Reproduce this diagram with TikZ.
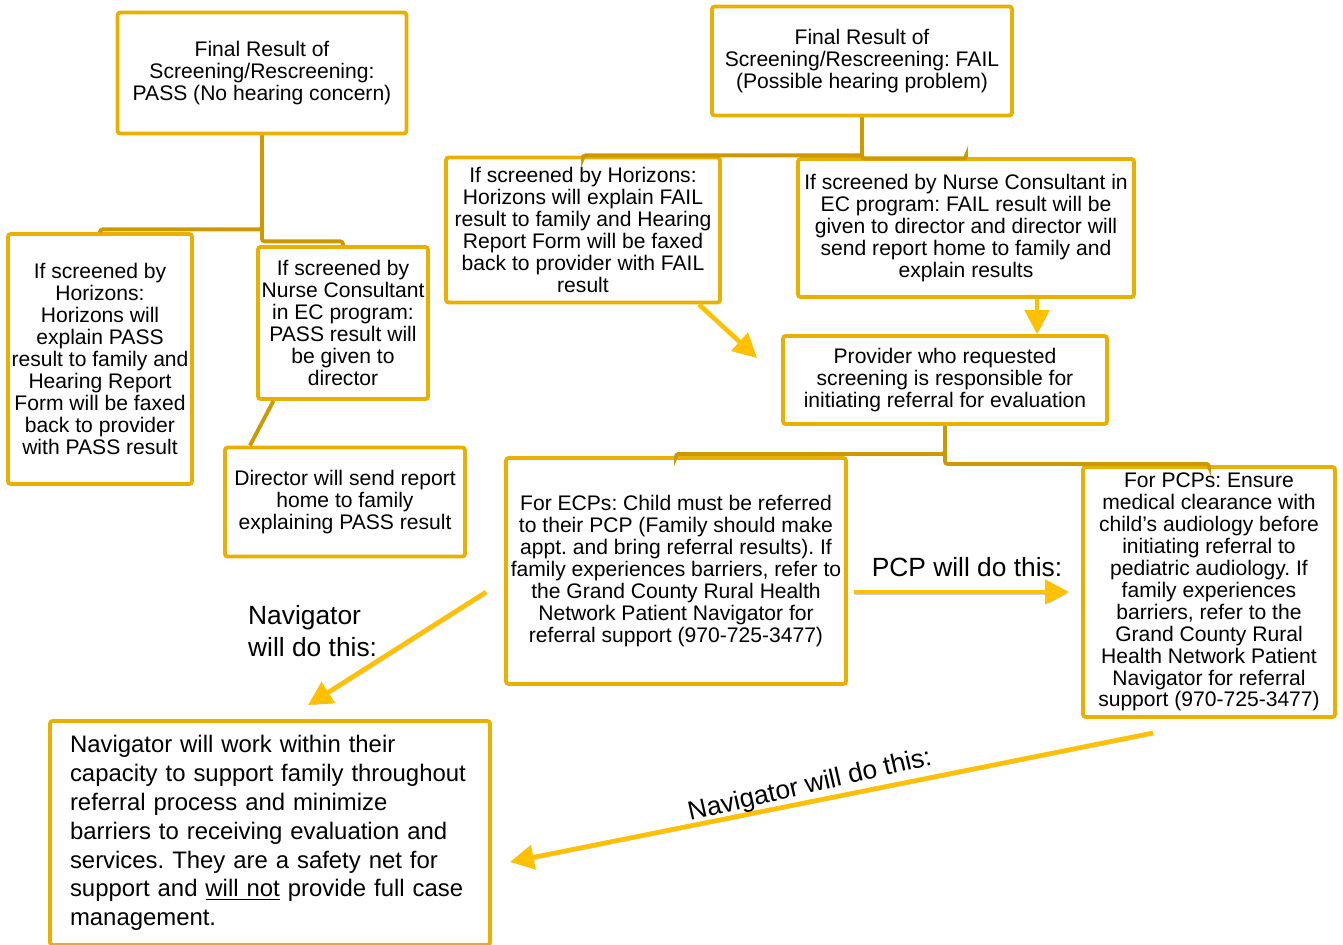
\documentclass[tikz,border=0pt]{standalone}
\usepackage{fontspec}
\setmainfont{Liberation Sans}
\usetikzlibrary{arrows.meta,calc}
\definecolor{boxgold}{RGB}{232,176,0}
\definecolor{linkgold}{RGB}{204,153,0}
\definecolor{arrowgold}{RGB}{255,192,0}
\frenchspacing
\begin{document}
\begin{tikzpicture}[x=0.02cm,y=-0.02cm,
  box/.style={draw=boxgold,line width=2.2pt,rounded corners=1.5pt,align=center,inner sep=1pt,font=\fontsize{12}{12.5}\selectfont},
  link/.style={draw=linkgold,line width=2.2pt,rounded corners=1.5pt},
  arr/.style={draw=arrowgold,line width=2.6pt,-{Triangle[length=4.8mm,width=4.8mm]},
    preaction={draw=black,opacity=0.18,transform canvas={shift={(0.8pt,-1.2pt)}}}},
  lbl/.style={font=\fontsize{15}{18}\selectfont}]
\useasboundingbox (0,0) rectangle (1343,944);
% PASS side
\node[box,minimum width=5.78cm,minimum height=2.42cm] (pass) at (262,73) {Final Result of\\Screening/Rescreening:\\PASS (No hearing concern)};
\node[box,minimum width=3.68cm,minimum height=5cm] (hpass) at (100,359) {If screened by\\Horizons:\\Horizons will\\explain PASS\\result to family and\\Hearing Report\\Form will be faxed\\back to provider\\with PASS result};
\node[box,minimum width=3.4cm,minimum height=3.04cm] (npass) at (343,323) {If screened by\\Nurse Consultant\\in EC program:\\PASS result will\\be given to\\director};
\node[box,minimum width=4.8cm,minimum height=2.18cm] (dir) at (345,502) {Director will send report\\home to family\\explaining PASS result};
% FAIL side
\node[box,minimum width=6cm,minimum height=2.18cm] (fail) at (862,61) {Final Result of\\Screening/Rescreening: FAIL\\(Possible hearing problem)};
\node[box,minimum width=5.48cm,minimum height=2.9cm] (hfail) at (583,230) {If screened by Horizons:\\Horizons will explain FAIL\\result to family and Hearing\\Report Form will be faxed\\back to provider with FAIL\\result};
\node[box,minimum width=6.72cm,minimum height=2.76cm] (nfail) at (966,228) {If screened by Nurse Consultant in\\EC program: FAIL result will be\\given to director and director will\\send report home to family and\\explain results};
\node[box,minimum width=6.48cm,minimum height=1.76cm] (prov) at (945,380) {Provider who requested\\screening is responsible for\\initiating referral for evaluation};
\node[box,minimum width=6.8cm,minimum height=4.52cm] (ecp) at (676,571) {For ECPs: Child must be referred\\to their PCP (Family should make\\appt. and bring referral results). If\\family experiences barriers, refer to\\the Grand County Rural Health\\Network Patient Navigator for\\referral support (970-725-3477)};
\node[box,minimum width=5.04cm,minimum height=5cm] (pcp) at (1209,592) {For PCPs: Ensure\\medical clearance with\\child’s audiology before\\initiating referral to\\pediatric audiology. If\\family experiences\\barriers, refer to the\\Grand County Rural\\Health Network Patient\\Navigator for referral\\support (970-725-3477)};
\node[box,align=left,text width=8cm,inner xsep=0.4cm,minimum height=4.48cm,font=\fontsize{13.6}{16.4}\selectfont] (nav) at (270,833) {Navigator will work within their\\capacity to support family throughout\\referral process and minimize\\barriers to receiving evaluation and\\services. They are a safety net for\\support and \underline{will not} provide full case\\management.};
% tree links
\draw[link] (pass.south) -- ++(0,94) -| (hpass.north);
\draw[link] (pass.south) -- ++(0,106) -| (npass.north);
\draw[link] ($(npass.south west)!0.1!(npass.south east)$) -- ($(dir.north west)!0.11!(dir.north east)$);
\draw[link] (fail.south) -- ++(0,38) -| (hfail.north);
\draw[link] (fail.south) -- ++(0,41) -| (nfail.north);
\draw[link] (prov.south) -- ++(0,28) -| (ecp.north);
\draw[link] (prov.south) -- ++(0,38) -| (pcp.north);
% arrows
\draw[arr] ($(hfail.south east)+(-23,0)$) -- ($(prov.west)+(-24,-22)$);
\draw[arr] ($(nfail.south)+(71,0)$) -- ($(prov.north)+(92,0)$);
\draw[arr] ($(ecp.east)+(6,21)$) -- ($(pcp.west)+(-12,0)$);
\draw[arr] ($(ecp.west)+(-18,21)$) -- ($(nav.north)+(38,-14)$);
\draw[arr] ($(pcp.south)+(-56,14)$) -- ($(nav.east)+(18,29)$);
\node[lbl] (pcplbl) at (967,567) {PCP will do this:};
\node[lbl,align=left,anchor=west] (navlbl) at (242,631) {Navigator\\will do this:};
\node[lbl,rotate=13] (navlbl2) at (810,786) {Navigator will do this:};
\end{tikzpicture}
\end{document}
